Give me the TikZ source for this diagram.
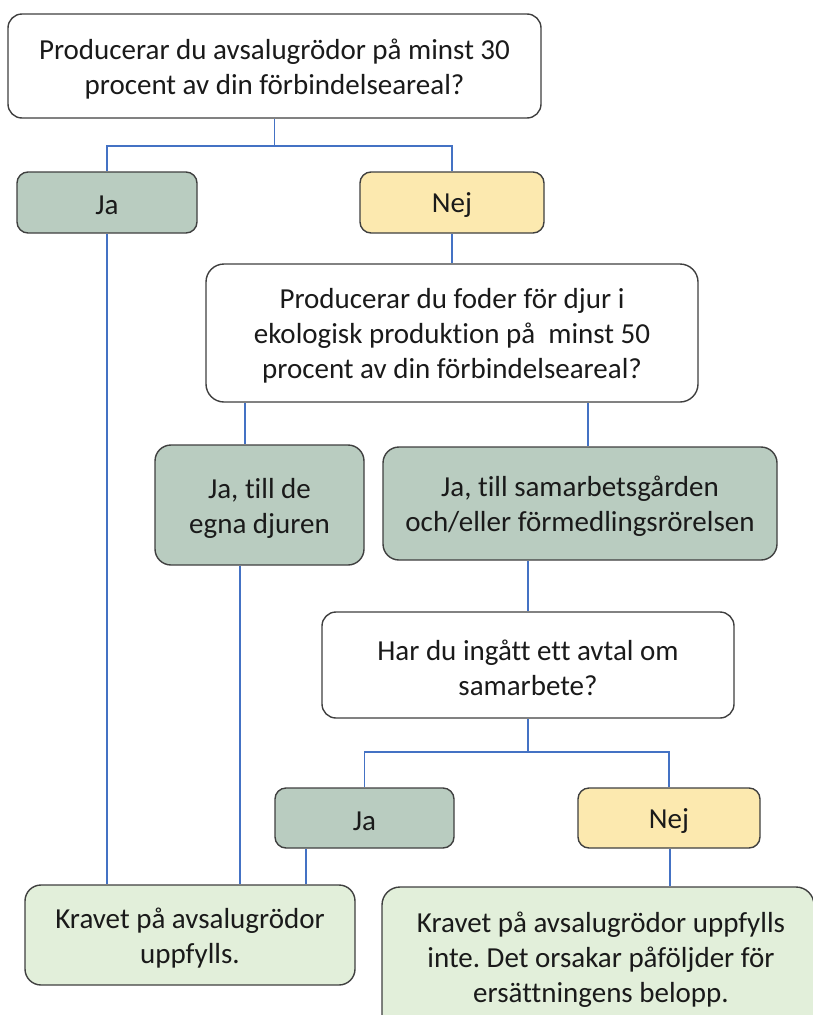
\documentclass[tikz,border=0pt]{standalone}
\usepackage{fontspec}
\setmainfont[Ligatures=NoCommon]{Carlito}
\frenchspacing
\definecolor{edge}{HTML}{3F3F3F}
\definecolor{link}{HTML}{4472C4}
\definecolor{jafill}{HTML}{B9CCC0}
\definecolor{nejfill}{HTML}{FCE9AF}
\definecolor{resfill}{HTML}{E2EFDA}
\definecolor{txt}{HTML}{1A1A1A}
\tikzset{
  box/.style={draw=edge, line width=1.4pt, rounded corners=14pt, inner sep=0pt},
  qbox/.style={box, fill=white},
  jabox/.style={box, fill=jafill, rounded corners=11pt},
  nejbox/.style={box, fill=nejfill, rounded corners=11pt},
  resbox/.style={box, fill=resfill, rounded corners=16pt},
  tlabel/.style={align=center, text=txt, inner sep=0pt, font=\fontsize{29}{35}\selectfont},
  conn/.style={draw=link, line width=1.2pt},
}
\begin{document}
\begin{tikzpicture}[x=1pt,y=-1pt]
\useasboundingbox (0,0) rectangle (812,1015);
\node[qbox, minimum width=533pt, minimum height=104pt] (Q1) at (274.5,66) {};
\node[tlabel] (Q1t) at ([yshift=-3pt]Q1.center)
  {Producerar du avsalugrödor på minst 30\\procent av din förbindelseareal?};
\node[jabox, minimum width=180pt, minimum height=61pt] (Ja1) at (107,202.5) {};
\node[tlabel] (Ja1t) at ([yshift=-3pt]Ja1.center) {Ja};
\node[nejbox, minimum width=184pt, minimum height=61pt] (Nej1) at (452,202.5) {};
\node[tlabel] (Nej1t) at ([yshift=-3pt]Nej1.center) {Nej};
\node[qbox, minimum width=492pt, minimum height=138pt, rounded corners=18pt] (Q2) at (452,333) {};
\node[tlabel] (Q2t) at ([yshift=-3pt]Q2.center)
  {Producerar du foder för djur i\\ekologisk produktion på~ minst 50\\procent av din förbindelseareal?};
\node[jabox, minimum width=209pt, minimum height=120pt, rounded corners=16pt] (Ja2) at (259.5,505) {};
\node[tlabel] (Ja2t) at ([yshift=-3pt]Ja2.center) {Ja, till de\\egna djuren};
\node[jabox, minimum width=394pt, minimum height=113pt, rounded corners=16pt] (Ja3) at (580,503.5) {};
\node[tlabel] (Ja3t) at ([yshift=-3pt]Ja3.center)
  {Ja, till samarbetsgården\\och/eller förmedlingsrörelsen};
\node[qbox, minimum width=412pt, minimum height=106pt] (Q3) at (528,665) {};
\node[tlabel] (Q3t) at ([yshift=-3pt]Q3.center) {Har du ingått ett avtal om\\samarbete?};
\node[jabox, minimum width=179pt, minimum height=60pt] (Ja4) at (364.5,818) {};
\node[tlabel] (Ja4t) at ([yshift=-3pt]Ja4.center) {Ja};
\node[nejbox, minimum width=182pt, minimum height=60pt] (Nej4) at (669,818) {};
\node[tlabel] (Nej4t) at ([yshift=-3pt]Nej4.center) {Nej};
\node[resbox, minimum width=330pt, minimum height=100pt] (R1) at (190,935) {};
\node[tlabel] (R1t) at ([yshift=-3pt]R1.center) {Kravet på avsalugrödor\\uppfylls.};
\node[resbox, minimum width=432pt, minimum height=148pt, rounded corners=18pt] (R2) at (598,961) {};
\node[tlabel] (R2t) at (601,960)
  {Kravet på avsalugrödor uppfylls\\inte. Det orsakar påföljder för\\ersättningens belopp.};
% connectors
\coordinate (b1) at (0,146);
\draw[conn] (Q1.south) -- (Q1.south |- b1);
\draw[conn] (Ja1.north) |- (Nej1.north |- b1) -- (Nej1.north);
\draw[conn] (Nej1.south) -- (Q2.north);
\coordinate (x245) at (245,0);
\coordinate (x588) at (588,0);
\draw[conn] (x245 |- Q2.south) -- (x245 |- Ja2.north);
\draw[conn] (x588 |- Q2.south) -- (x588 |- Ja3.north);
\draw[conn] (Ja1.south) -- (Ja1.south |- R1.north);
\coordinate (x240) at (240,0);
\draw[conn] (x240 |- Ja2.south) -- (x240 |- R1.north);
\coordinate (x528) at (528,0);
\draw[conn] (x528 |- Ja3.south) -- (Q3.north);
\coordinate (b2) at (0,752);
\draw[conn] (Q3.south) -- (Q3.south |- b2);
\draw[conn] (Ja4.north) |- (Nej4.north |- b2) -- (Nej4.north);
\coordinate (x306) at (306,0);
\draw[conn] (x306 |- Ja4.south) -- (x306 |- R1.north);
\coordinate (x670) at (670,0);
\draw[conn] (x670 |- Nej4.south) -- (x670 |- R2.north);
\end{tikzpicture}
\end{document}
